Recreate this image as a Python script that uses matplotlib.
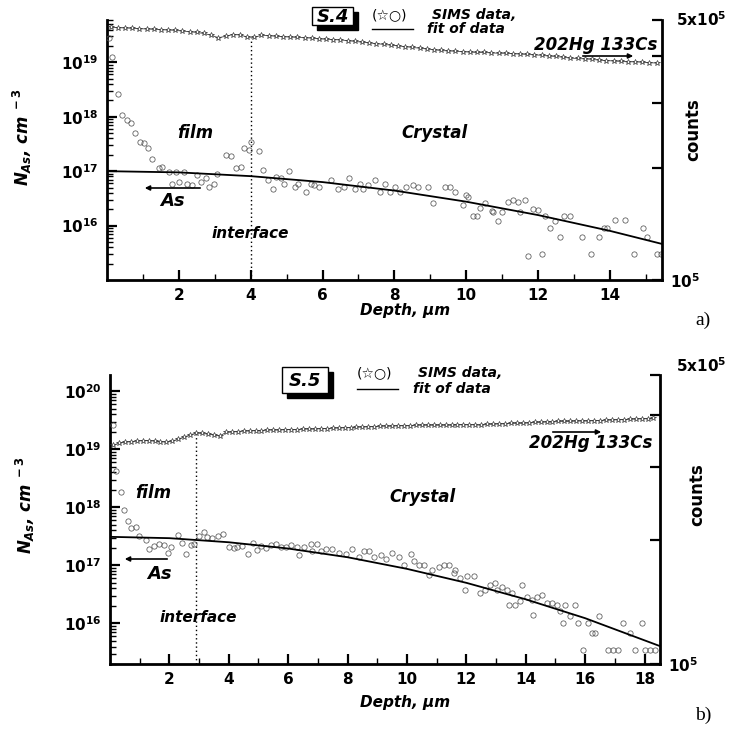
import numpy as np
import matplotlib
matplotlib.use('Agg')
import matplotlib.pyplot as plt
from matplotlib.patches import Rectangle
from matplotlib.lines import Line2D
from matplotlib.ticker import LogLocator, NullFormatter, FixedLocator, FixedFormatter

plt.rcParams['font.family'] = ['DejaVu Sans']
plt.rcParams['mathtext.fontset'] = 'custom'
plt.rcParams['mathtext.rm'] = 'DejaVu Sans:bold'
plt.rcParams['mathtext.it'] = 'DejaVu Sans:italic:bold'
plt.rcParams['mathtext.bf'] = 'DejaVu Sans:bold'

# ---------------- data: panel a) sample S.4 ----------------
a_circ_depth = [0.05, 0.14, 0.30, 0.43, 0.56, 0.67, 0.79, 0.93, 1.03, 1.15, 1.26, 1.44, 1.54, 1.72, 1.82,
                1.91, 2.0, 2.14, 2.23, 2.37, 2.51, 2.61, 2.75, 2.84, 2.98, 3.07, 3.31, 3.45, 3.59, 3.73,
                3.82, 3.96, 4.0, 4.24, 4.33, 4.47, 4.61, 4.70, 4.84, 4.94, 5.06, 5.22, 5.31, 5.54, 5.68,
                5.77, 5.91, 6.24, 6.42, 6.61, 6.75, 6.89, 7.03, 7.12, 7.26, 7.45, 7.59, 7.73, 7.87, 8.01,
                8.15, 8.33, 8.52, 8.66, 8.94, 9.08, 9.41, 9.55, 9.69, 9.92, 10.0, 10.06, 10.2, 10.29, 10.38,
                10.52, 10.71, 10.75, 10.89, 10.99, 11.17, 11.31, 11.45, 11.5, 11.64, 11.73, 11.87, 12.01,
                12.11, 12.2, 12.34, 12.48, 12.62, 12.71, 12.9, 13.22, 13.46, 13.69, 13.83, 13.92, 14.15,
                14.43, 14.67, 14.93, 15.04, 15.32, 15.41]
a_circ_log_nas = [19.45, 19.10, 18.41, 18.04, 17.94, 17.88, 17.71, 17.54, 17.51, 17.42, 17.22, 17.06, 17.08,
                  16.99, 16.77, 16.99, 16.80, 16.99, 16.77, 16.74, 16.93, 16.80, 16.87, 16.71, 16.77, 16.94,
                  17.29, 17.28, 17.05, 17.08, 17.43, 17.39, 17.54, 17.37, 17.02, 16.83, 16.68, 16.90, 16.87,
                  16.76, 17.01, 16.71, 16.77, 16.62, 16.77, 16.75, 16.71, 16.83, 16.67, 16.71, 16.88, 16.68,
                  16.77, 16.67, 16.74, 16.83, 16.62, 16.77, 16.61, 16.71, 16.62, 16.71, 16.74, 16.71, 16.71,
                  16.42, 16.71, 16.71, 16.62, 16.37, 16.56, 16.53, 16.17, 16.17, 16.32, 16.42, 16.26, 16.25,
                  16.08, 16.25, 16.43, 16.47, 16.43, 16.25, 16.47, 15.45, 16.31, 16.28, 15.47, 16.17, 15.96,
                  16.08, 15.79, 16.17, 16.17, 15.79, 15.47, 15.79, 15.96, 15.96, 16.10, 16.10, 15.47, 15.96,
                  15.79, 15.47, 15.47]
a_fit_depth = [0.0, 2.0, 4.0, 6.0, 8.0, 10.0, 12.0, 14.0, 15.45]
a_fit_nas = [1.0e17, 9.5e16, 8.1e16, 6.3e16, 4.4e16, 2.75e16, 1.56e16, 8.0e15, 4.6e15]
a_star_depth = [0.1, 0.3, 0.5, 0.7, 0.9, 1.1, 1.3, 1.5, 1.7, 1.9, 2.1, 2.3, 2.5, 2.7, 2.9, 3.1, 3.3, 3.5,
                3.7, 3.9, 4.1, 4.3, 4.5, 4.7, 4.9, 5.1, 5.3, 5.5, 5.7, 5.9, 6.1, 6.3, 6.5, 6.7, 6.9, 7.1,
                7.3, 7.5, 7.7, 7.9, 8.1, 8.3, 8.5, 8.7, 8.9, 9.1, 9.3, 9.5, 9.7, 9.9, 10.1, 10.3, 10.5,
                10.7, 10.9, 11.1, 11.3, 11.5, 11.7, 11.9, 12.1, 12.3, 12.5, 12.7, 12.9, 13.1, 13.3, 13.5,
                13.7, 13.9, 14.1, 14.3, 14.5, 14.7, 14.9, 15.1, 15.3]
a_star_counts = [4.78e5, 4.77e5, 4.76e5, 4.75e5, 4.74e5, 4.73e5, 4.72e5, 4.71e5, 4.70e5, 4.69e5, 4.67e5,
                 4.65e5, 4.63e5, 4.60e5, 4.55e5, 4.48e5, 4.52e5, 4.57e5, 4.56e5, 4.50e5, 4.49e5, 4.55e5,
                 4.54e5, 4.52e5, 4.51e5, 4.50e5, 4.49e5, 4.48e5, 4.47e5, 4.45e5, 4.44e5, 4.43e5, 4.42e5,
                 4.40e5, 4.38e5, 4.36e5, 4.34e5, 4.32e5, 4.30e5, 4.28e5, 4.26e5, 4.24e5, 4.22e5, 4.20e5,
                 4.18e5, 4.16e5, 4.14e5, 4.13e5, 4.12e5, 4.11e5, 4.10e5, 4.09e5, 4.09e5, 4.08e5, 4.07e5,
                 4.07e5, 4.06e5, 4.05e5, 4.04e5, 4.03e5, 4.02e5, 4.00e5, 3.99e5, 3.97e5, 3.95e5, 3.94e5,
                 3.93e5, 3.92e5, 3.90e5, 3.89e5, 3.88e5, 3.87e5, 3.86e5, 3.86e5, 3.85e5, 3.84e5, 3.83e5]
a_interface = 4.0

# ---------------- data: panel b) sample S.5 ----------------
b_circ_depth = [0.09, 0.2, 0.37, 0.48, 0.59, 0.71, 0.87, 0.99, 1.21, 1.32, 1.49, 1.66, 1.83, 1.94, 2.05, 2.28,
                2.44, 2.55, 2.72, 2.83, 3.0, 3.17, 3.28, 3.45, 3.62, 3.79, 4.01, 4.18, 4.29, 4.46, 4.63, 4.80,
                4.96, 5.08, 5.24, 5.41, 5.58, 5.75, 5.92, 6.08, 6.31, 6.36, 6.53, 6.76, 6.81, 6.98, 7.09, 7.26,
                7.49, 7.71, 7.93, 8.16, 8.38, 8.55, 8.72, 8.88, 9.11, 9.28, 9.50, 9.72, 9.89, 10.12, 10.23,
                10.40, 10.57, 10.73, 10.85, 11.07, 11.24, 11.41, 11.57, 11.63, 11.80, 11.97, 12.02, 12.25,
                12.47, 12.64, 12.81, 12.97, 13.03, 13.20, 13.37, 13.42, 13.54, 13.65, 13.82, 13.87, 14.04,
                14.21, 14.26, 14.38, 14.55, 14.71, 14.88, 15.05, 15.16, 15.27, 15.33, 15.50, 15.66, 15.77,
                15.94, 16.11, 16.22, 16.34, 16.45, 16.78, 16.95, 17.12, 17.29, 17.51, 17.68, 17.90, 18.02,
                18.18, 18.35]
b_circ_log_nas = [19.42, 18.62, 18.26, 17.96, 17.76, 17.64, 17.66, 17.50, 17.43, 17.28, 17.34, 17.37, 17.35,
                  17.22, 17.32, 17.53, 17.38, 17.20, 17.35, 17.37, 17.50, 17.57, 17.49, 17.47, 17.50, 17.54,
                  17.31, 17.30, 17.32, 17.34, 17.20, 17.39, 17.27, 17.34, 17.30, 17.35, 17.37, 17.32, 17.32,
                  17.35, 17.32, 17.18, 17.32, 17.37, 17.24, 17.37, 17.24, 17.28, 17.28, 17.22, 17.20, 17.28,
                  17.15, 17.24, 17.24, 17.15, 17.18, 17.11, 17.21, 17.14, 17.01, 17.20, 17.08, 17.01, 17.01,
                  16.84, 16.92, 16.98, 17.01, 17.01, 16.87, 16.92, 16.78, 16.58, 16.81, 16.81, 16.52, 16.58,
                  16.66, 16.70, 16.58, 16.63, 16.58, 16.32, 16.52, 16.32, 16.38, 16.66, 16.46, 16.41, 16.15,
                  16.46, 16.49, 16.36, 16.35, 16.32, 16.22, 16.01, 16.32, 16.13, 16.32, 16.01, 15.54, 16.01,
                  15.83, 15.83, 16.13, 15.54, 15.54, 15.54, 16.01, 15.83, 15.54, 16.01, 15.54, 15.54, 15.54]
b_fit_depth = [0.0, 2.0, 4.0, 6.0, 8.0, 10.0, 12.0, 14.0, 16.0, 18.5]
b_fit_nas = [3.1e17, 2.94e17, 2.5e17, 1.95e17, 1.38e17, 8.7e16, 5.0e16, 2.6e16, 1.23e16, 4.1e15]
b_star_depth = [0.1, 0.3, 0.5, 0.7, 0.9, 1.1, 1.3, 1.5, 1.7, 1.9, 2.1, 2.3, 2.5, 2.7, 2.9, 3.1, 3.3, 3.5,
                3.7, 3.9, 4.1, 4.3, 4.5, 4.7, 4.9, 5.1, 5.3, 5.5, 5.7, 5.9, 6.1, 6.3, 6.5, 6.7, 6.9, 7.1,
                7.3, 7.5, 7.7, 7.9, 8.1, 8.3, 8.5, 8.7, 8.9, 9.1, 9.3, 9.5, 9.7, 9.9, 10.1, 10.3, 10.5,
                10.7, 10.9, 11.1, 11.3, 11.5, 11.7, 11.9, 12.1, 12.3, 12.5, 12.7, 12.9, 13.1, 13.3, 13.5,
                13.7, 13.9, 14.1, 14.3, 14.5, 14.7, 14.9, 15.1, 15.3, 15.5, 15.7, 15.9, 16.1, 16.3, 16.5,
                16.7, 16.9, 17.1, 17.3, 17.5, 17.7, 17.9, 18.1, 18.3]
b_star_counts = [3.38e5, 3.42e5, 3.44e5, 3.45e5, 3.46e5, 3.47e5, 3.47e5, 3.46e5, 3.45e5, 3.44e5, 3.46e5,
                 3.50e5, 3.54e5, 3.58e5, 3.62e5, 3.61e5, 3.60e5, 3.58e5, 3.56e5, 3.63e5, 3.64e5, 3.65e5,
                 3.66e5, 3.66e5, 3.67e5, 3.67e5, 3.68e5, 3.68e5, 3.68e5, 3.69e5, 3.69e5, 3.69e5, 3.70e5,
                 3.70e5, 3.70e5, 3.71e5, 3.71e5, 3.72e5, 3.72e5, 3.73e5, 3.73e5, 3.74e5, 3.74e5, 3.75e5,
                 3.75e5, 3.76e5, 3.76e5, 3.76e5, 3.77e5, 3.77e5, 3.77e5, 3.78e5, 3.78e5, 3.78e5, 3.78e5,
                 3.78e5, 3.78e5, 3.78e5, 3.79e5, 3.79e5, 3.79e5, 3.79e5, 3.78e5, 3.80e5, 3.80e5, 3.81e5,
                 3.81e5, 3.82e5, 3.82e5, 3.82e5, 3.83e5, 3.84e5, 3.84e5, 3.85e5, 3.85e5, 3.86e5, 3.86e5,
                 3.86e5, 3.87e5, 3.87e5, 3.87e5, 3.88e5, 3.88e5, 3.89e5, 3.89e5, 3.90e5, 3.90e5, 3.91e5,
                 3.91e5, 3.92e5, 3.92e5, 3.93e5]
b_interface = 2.9

# ---------------- figure ----------------
W, H = 730, 744
fig = plt.figure(figsize=(W / 100, H / 100), dpi=100)
fig.patch.set_facecolor('white')


def P(x, y):
    return (x / W, 1 - y / H)


def box(l, t, r, b):
    return [l / W, 1 - b / H, (r - l) / W, (b - t) / H]


BI = dict(fontweight='bold', fontstyle='italic', color='black')


def make_panel(rect, xlim, ylim, ymajors, xmajors, xminors, cd, clog, fd, fv, sd, sc, iface, iface_top):
    ax = fig.add_axes(rect)
    ax.set_yscale('log')
    ax.set_xlim(*xlim)
    ax.set_ylim(*ylim)
    ax.yaxis.set_major_locator(FixedLocator(ymajors))
    ax.yaxis.set_major_formatter(FixedFormatter(['$10^{%d}$' % int(round(np.log10(v))) for v in ymajors]))
    ax.yaxis.set_minor_locator(LogLocator(base=10, subs=np.arange(2, 10), numticks=60))
    ax.yaxis.set_minor_formatter(NullFormatter())
    ax.xaxis.set_major_locator(FixedLocator(xmajors))
    ax.xaxis.set_major_formatter(FixedFormatter(['%d' % v for v in xmajors]))
    ax.xaxis.set_minor_locator(FixedLocator(xminors))
    for s in ['top', 'right']:
        ax.spines[s].set_visible(False)
    for s in ['left', 'bottom']:
        ax.spines[s].set_linewidth(2)
    ax.tick_params(which='major', direction='in', length=7, width=1.6, labelsize=11, pad=6)
    ax.tick_params(which='minor', direction='in', length=4, width=1.0)
    for lab in ax.get_xticklabels() + ax.get_yticklabels():
        lab.set_fontweight('bold')

    ax.plot(np.array(cd), 10.0 ** np.array(clog), linestyle='none', marker='o', ms=3.8,
            mfc='none', mec='#555555', mew=0.55, zorder=3)
    ax.plot(fd, fv, color='black', lw=1.3, zorder=4)
    ax.axvline(iface, ymin=0, ymax=iface_top, color='black', lw=1.0, linestyle=(0, (1, 2)))

    ax2 = ax.twinx()
    ax2.set_yscale('log')
    ax2.set_ylim(1e5, 5e5)
    ax2.yaxis.set_major_locator(FixedLocator([1e5, 2e5, 3e5, 4e5, 5e5]))
    ax2.yaxis.set_major_formatter(FixedFormatter(['$10^{5}$', '', '', '', '']))
    ax2.yaxis.set_minor_locator(FixedLocator([]))
    for s in ['top', 'left', 'bottom']:
        ax2.spines[s].set_visible(False)
    ax2.spines['right'].set_linewidth(2)
    ax2.tick_params(which='major', direction='in', length=7, width=1.6, labelsize=11, pad=6)
    ax2.plot(sd, sc, color='#444444', lw=0.6, zorder=2)
    ax2.plot(sd, sc, linestyle='none', marker='*', ms=3.8, mfc='white', mec='#222222', mew=0.45, zorder=3)
    return ax, ax2


axA, axA2 = make_panel(box(107, 20, 662, 280), (0.0, 15.45), (1e15, 6.0e19),
                       [1e16, 1e17, 1e18, 1e19], [2, 4, 6, 8, 10, 12, 14],
                       [1, 3, 5, 7, 9, 11, 13, 15],
                       a_circ_depth, a_circ_log_nas, a_fit_depth, a_fit_nas,
                       a_star_depth, a_star_counts, a_interface, 0.93)
axB, axB2 = make_panel(box(110, 375, 660, 664), (0.0, 18.52), (2.0e15, 1.9e20),
                       [1e16, 1e17, 1e18, 1e19, 1e20], [2, 4, 6, 8, 10, 12, 14, 16, 18],
                       [1, 3, 5, 7, 9, 11, 13, 15, 17],
                       b_circ_depth, b_circ_log_nas, b_fit_depth, b_fit_nas,
                       b_star_depth, b_star_counts, b_interface, 0.80)

# ---------------- annotations (figure pixel coordinates) ----------------
def txt(x, y, s, size, ha='center', va='center', **kw):
    d = dict(BI)
    d.update(kw)
    fig.text(*P(x, y), s, fontsize=size, ha=ha, va=va, **d)


def arrow(x0, y0, x1, y1):
    fig.add_artist(matplotlib.patches.FancyArrowPatch(P(x0, y0), P(x1, y1), transform=fig.transFigure,
                                                      arrowstyle='-|>', mutation_scale=7, lw=1.2,
                                                      color='black'))


def sample_box(l, t, r, b, label):
    fig.add_artist(Rectangle(P(l + 5, b + 5), (r - l) / W, (b - t) / H, transform=fig.transFigure,
                             facecolor='black', edgecolor='black', zorder=5))
    fig.add_artist(Rectangle(P(l, b), (r - l) / W, (b - t) / H, transform=fig.transFigure,
                             facecolor='white', edgecolor='black', lw=1.0, zorder=6))
    fig.text(*P((l + r) / 2, (t + b) / 2 + 1), label, fontsize=13, ha='center', va='center', zorder=7, **BI)


def legend_block(x_sym, x_txt, y1, y2):
    fig.text(*P(x_sym, y1), '(\u2606\u25cb)', fontsize=10, ha='left', va='center', color='black')
    txt(x_txt, y1, 'SIMS data,', 10, ha='left')
    fig.add_artist(Line2D([x_sym / W, (x_sym + 41) / W], [1 - y2 / H, 1 - y2 / H],
                          transform=fig.transFigure, color='black', lw=1.0))
    txt(x_txt - 5, y2, 'fit of data', 10, ha='left')


# panel a
sample_box(312, 7, 353, 25, 'S.4')
legend_block(372, 432, 15, 29)
txt(195, 133, 'film', 12)
txt(435, 133, 'Crystal', 12)
txt(250, 234, 'interface', 11)
txt(172, 201, 'As', 13)
arrow(203, 188, 142, 188)
txt(657, 45, '202Hg 133Cs', 12, ha='right')
arrow(580, 56, 636, 56)
txt(405, 311, 'Depth, \u03bcm', 11)
fig.text(*P(693, 130), 'counts', fontsize=12, rotation=90, ha='center', va='center', fontweight='bold',
         family=['Liberation Sans Narrow', 'DejaVu Sans'])
fig.text(*P(22, 137), r'$N_{As}$, cm$^{\ -3}$', fontsize=12, rotation=90, ha='center', va='center', **BI)
fig.text(*P(676, 20), '5x$10^{5}$', fontsize=11, ha='left', va='center', fontweight='bold')
fig.text(*P(703, 320), 'a)', fontsize=14, ha='center', va='center', family=['Liberation Serif'])

# panel b
sample_box(282, 367, 328, 393, 'S.5')
legend_block(357, 418, 373, 389)
txt(153, 493, 'film', 12)
txt(423, 497, 'Crystal', 12)
txt(198, 618, 'interface', 11)
txt(159, 574, 'As', 13)
arrow(170, 559, 122, 559)
txt(652, 443, '202Hg 133Cs', 12, ha='right')
arrow(550, 432, 604, 432)
txt(405, 702, 'Depth, \u03bcm', 11)
fig.text(*P(697, 495), 'counts', fontsize=12, rotation=90, ha='center', va='center', fontweight='bold',
         family=['Liberation Sans Narrow', 'DejaVu Sans'])
fig.text(*P(25, 505), r'$N_{As}$, cm$^{\ -3}$', fontsize=12, rotation=90, ha='center', va='center', **BI)
fig.text(*P(676, 366), '5x$10^{5}$', fontsize=11, ha='left', va='center', fontweight='bold')
fig.text(*P(703, 715), 'b)', fontsize=14, ha='center', va='center', family=['Liberation Serif'])

fig.savefig('out.png', dpi=100, facecolor='white')
